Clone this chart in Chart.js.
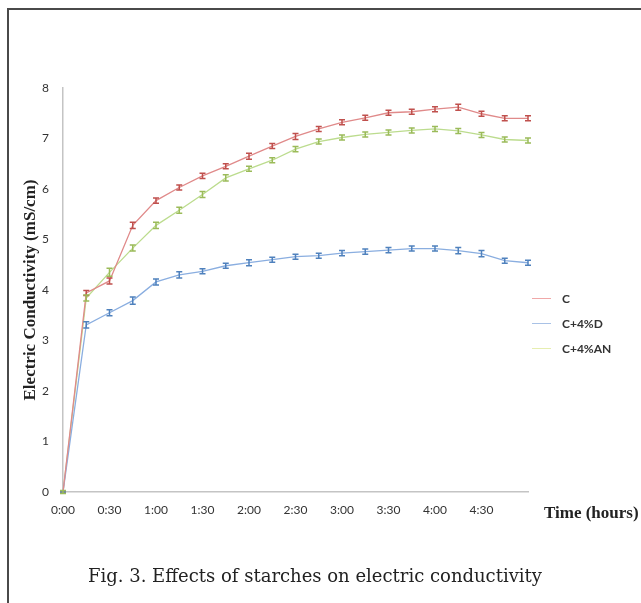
<!DOCTYPE html>
<html>
<head>
<meta charset="utf-8">
<script src="https://cdn.jsdelivr.net/npm/chart.js@4.4.1/dist/chart.umd.min.js"></script>
<style>
  body { margin: 0; background: #fff; }
  #wrap { position: relative; width: 641px; height: 603px; overflow: hidden; }
  #frame { position: absolute; left: 7px; top: 8px; right: -10px; bottom: -10px;
           border-top: 2px solid #4a4a4a; border-left: 2px solid #4a4a4a; }
  canvas { position: absolute; left: 0; top: 0; }
  .legend { position: absolute; left: 532px; font: bold 12px Lato, sans-serif; color: #333; }
  .legend div { height: 25px; display: flex; align-items: center; }
  .legend span.ln { display: inline-block; width: 19px; height: 1.5px; margin-right: 11px; }
  #xtitle { position: absolute; left: 544px; top: 503px; font: bold 17px "Liberation Serif", serif; color: #222; white-space: nowrap; }
  #caption { position: absolute; left: 88px; top: 565px; font: 18px "DejaVu Serif", serif; color: #222; white-space: nowrap; }
</style>
</head>
<body>
<div id="wrap">
  <div id="frame"></div>
  <canvas id="chart" width="641" height="603"></canvas>
  <div class="legend" id="legend" style="top:286px"></div>
  <div id="xtitle">Time (hours)</div>
  <div id="caption">Fig. 3. Effects of starches on electric conductivity</div>
</div>
<script>
const timeLabels = ['0:00', '0:15', '0:30', '0:45', '1:00', '1:15', '1:30', '1:45', '2:00', '2:15', '2:30',
                    '2:45', '3:00', '3:15', '3:30', '3:45', '4:00', '4:15', '4:30', '4:45', '5:00'];

const seriesNames = ['C', 'C+4%D', 'C+4%AN'];

const valuesC  = [0, 3.94, 4.18, 5.28, 5.77, 6.03, 6.26, 6.45, 6.65, 6.85, 7.04,
                  7.19, 7.32, 7.41, 7.51, 7.53, 7.58, 7.62, 7.49, 7.40, 7.40];
const valuesD  = [0, 3.31, 3.55, 3.79, 4.16, 4.30, 4.37, 4.48, 4.54, 4.60, 4.66,
                  4.68, 4.73, 4.76, 4.79, 4.82, 4.82, 4.78, 4.72, 4.58, 4.54];
const valuesAN = [0, 3.84, 4.35, 4.83, 5.28, 5.58, 5.89, 6.22, 6.40, 6.57, 6.79,
                  6.94, 7.02, 7.08, 7.12, 7.16, 7.19, 7.15, 7.07, 6.98, 6.96];

// standard deviations (error bars)
const errC  = [0, 0.05, 0.06, 0.06, 0.05, 0.05, 0.05, 0.05, 0.06, 0.05, 0.06,
               0.05, 0.05, 0.05, 0.05, 0.05, 0.05, 0.06, 0.05, 0.05, 0.05];
const errD  = [0, 0.06, 0.06, 0.07, 0.06, 0.06, 0.05, 0.05, 0.06, 0.05, 0.05,
               0.05, 0.05, 0.05, 0.05, 0.05, 0.05, 0.06, 0.06, 0.05, 0.05];
const errAN = [0.03, 0.06, 0.08, 0.06, 0.06, 0.06, 0.06, 0.06, 0.05, 0.05, 0.05,
               0.05, 0.05, 0.05, 0.05, 0.05, 0.05, 0.05, 0.05, 0.05, 0.05];

const lineColors = ['#e08a8a', '#8aaee0', '#bcdc8e'];
const barColors  = ['#c0504d', '#4f81bd', '#9bbb59'];
const legendLine = ['#f0a8a8', '#a9c2e6', '#e6eeb0'];

const errorBars = {
  id: 'errorBars',
  afterDatasetsDraw(chart) {
    const ctx = chart.ctx;
    const y = chart.scales.y;
    chart.data.datasets.forEach((ds, i) => {
      const meta = chart.getDatasetMeta(i);
      ctx.save();
      ctx.strokeStyle = barColors[i];
      ctx.lineWidth = 1.5;
      meta.data.forEach((pt, j) => {
        const e = ds.errors[j];
        const top = y.getPixelForValue(ds.data[j] + e);
        const bot = y.getPixelForValue(ds.data[j] - e);
        ctx.beginPath();
        ctx.moveTo(pt.x, top); ctx.lineTo(pt.x, bot);
        ctx.moveTo(pt.x - 3, top); ctx.lineTo(pt.x + 3, top);
        ctx.moveTo(pt.x - 3, bot); ctx.lineTo(pt.x + 3, bot);
        ctx.stroke();
      });
      ctx.restore();
    });
  }
};

const tickFont = { family: 'Lato, sans-serif', size: 12 };

new Chart(document.getElementById('chart'), {
  type: 'line',
  data: {
    labels: timeLabels,
    datasets: [
      { label: seriesNames[0], data: valuesC, errors: errC },
      { label: seriesNames[1], data: valuesD, errors: errD },
      { label: seriesNames[2], data: valuesAN, errors: errAN }
    ].map((d, i) => Object.assign(d, {
      borderColor: lineColors[i], borderWidth: 1.3, pointRadius: 0, tension: 0, fill: false
    }))
  },
  options: {
    responsive: false,
    animation: false,
    layout: { padding: { left: 12, top: 88, right: 113, bottom: 81 } },
    plugins: { legend: { display: false }, tooltip: { enabled: false } },
    scales: {
      x: {
        offset: false,
        grid: { display: false },
        border: { color: '#c4c4c4', width: 1.5 },
        afterFit: s => { s.height = 30; },
        ticks: {
          autoSkip: false, maxRotation: 0, padding: 3, color: '#333', font: tickFont,
          callback: (v, i) => (i % 2 === 0 && i < timeLabels.length - 1) ? timeLabels[i] : ''
        }
      },
      y: {
        min: 0, max: 8,
        grid: { display: false },
        border: { color: '#c4c4c4', width: 1.5 },
        afterFit: s => { s.width = 51; },
        ticks: { stepSize: 1, padding: 6, color: '#333', font: tickFont },
        title: {
          display: true, text: 'Electric Conductivity (mS/cm)', color: '#222',
          font: { family: '"Liberation Serif", serif', size: 17, weight: 'bold' },
          padding: { top: 8, bottom: 0 }
        }
      }
    }
  },
  plugins: [errorBars]
});

document.getElementById('legend').innerHTML = seriesNames.map((n, i) =>
  '<div><span class="ln" style="background:' + legendLine[i] + '"></span>' + n + '</div>').join('');
</script>
</body>
</html>
